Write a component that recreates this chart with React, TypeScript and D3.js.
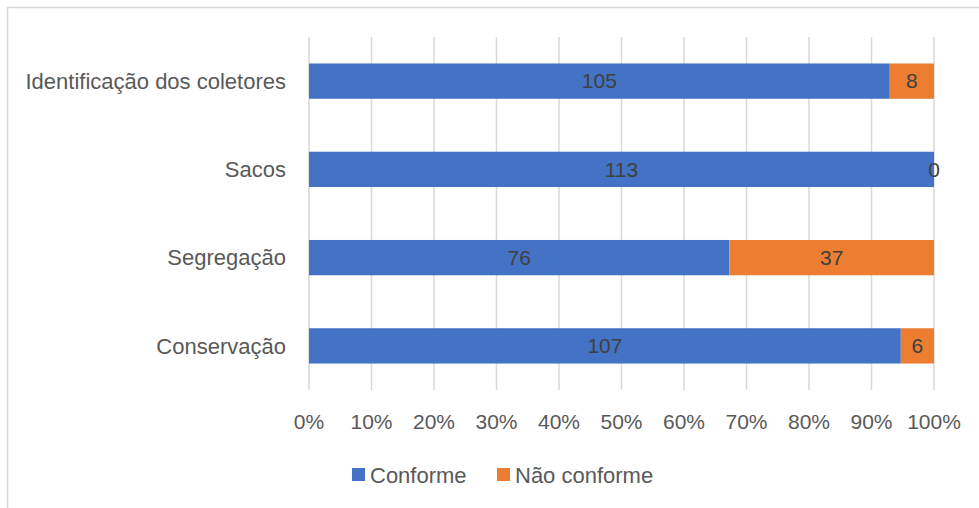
import React from "react";
import * as d3 from "d3";

const categories = ["Identificação dos coletores", "Sacos", "Segregação", "Conservação"];
const conforme = [105, 113, 76, 107];
const naoConforme = [8, 0, 37, 6];
const seriesNames = ["Conforme", "Não conforme"];
const tickValues = [0, 0.1, 0.2, 0.3, 0.4, 0.5, 0.6, 0.7, 0.8, 0.9, 1];

const colors = ["#4472C4", "#ED7D31"];
const FONT = "'Liberation Sans', Arial, sans-serif";

export default function App() {
  const W = 979, H = 508;
  const x = d3.scaleLinear().domain([0, 1]).range([309, 934]);
  const y = d3.scaleBand().domain(categories).range([37, 390]).paddingInner(0.6).paddingOuter(0.3);
  const fmt = d3.format(".0%");

  return (
    <svg width={W} height={H} style={{ position: "absolute", left: 0, top: 0 }}>
      <rect x={0} y={0} width={W} height={H} fill="#fff" />
      <rect x={7.5} y={7.5} width={W + 10} height={H + 10} fill="none" stroke="#d9d9d9" strokeWidth={1.5} />
      {tickValues.map((t) => (
        <line key={t} x1={x(t)} x2={x(t)} y1={37} y2={390} stroke="#d9d9d9" strokeWidth={1.5} />
      ))}
      {categories.map((c, i) => {
        const total = conforme[i] + naoConforme[i];
        const p1 = conforme[i] / total;
        const y0 = y(c)!;
        const bh = y.bandwidth();
        const cy = y0 + bh / 2;
        return (
          <g key={c}>
            <rect x={x(0)} y={y0} width={x(p1) - x(0)} height={bh} fill={colors[0]} />
            <rect x={x(p1)} y={y0} width={x(1) - x(p1)} height={bh} fill={colors[1]} />
            <text x={(x(0) + x(p1)) / 2} y={cy} dy="0.35em" textAnchor="middle" fontFamily={FONT} fontSize={21} fill="#404040">{conforme[i]}</text>
            <text x={(x(p1) + x(1)) / 2} y={cy} dy="0.35em" textAnchor="middle" fontFamily={FONT} fontSize={21} fill="#404040">{naoConforme[i]}</text>
            <text x={286} y={cy} dy="0.35em" textAnchor="end" fontFamily={FONT} fontSize={22} fill="#595959">{c}</text>
          </g>
        );
      })}
      {tickValues.map((t) => (
        <text key={"l" + t} x={x(t)} y={422} dy="0.35em" textAnchor="middle" fontFamily={FONT} fontSize={21} fill="#595959">{fmt(t)}</text>
      ))}
      {seriesNames.map((s, i) => {
        const lx = i === 0 ? 352 : 497;
        return (
          <g key={s}>
            <rect x={lx} y={468} width={13} height={13} fill={colors[i]} />
            <text x={lx + 18} y={475} dy="0.35em" fontFamily={FONT} fontSize={22} fill="#595959">{s}</text>
          </g>
        );
      })}
    </svg>
  );
}
